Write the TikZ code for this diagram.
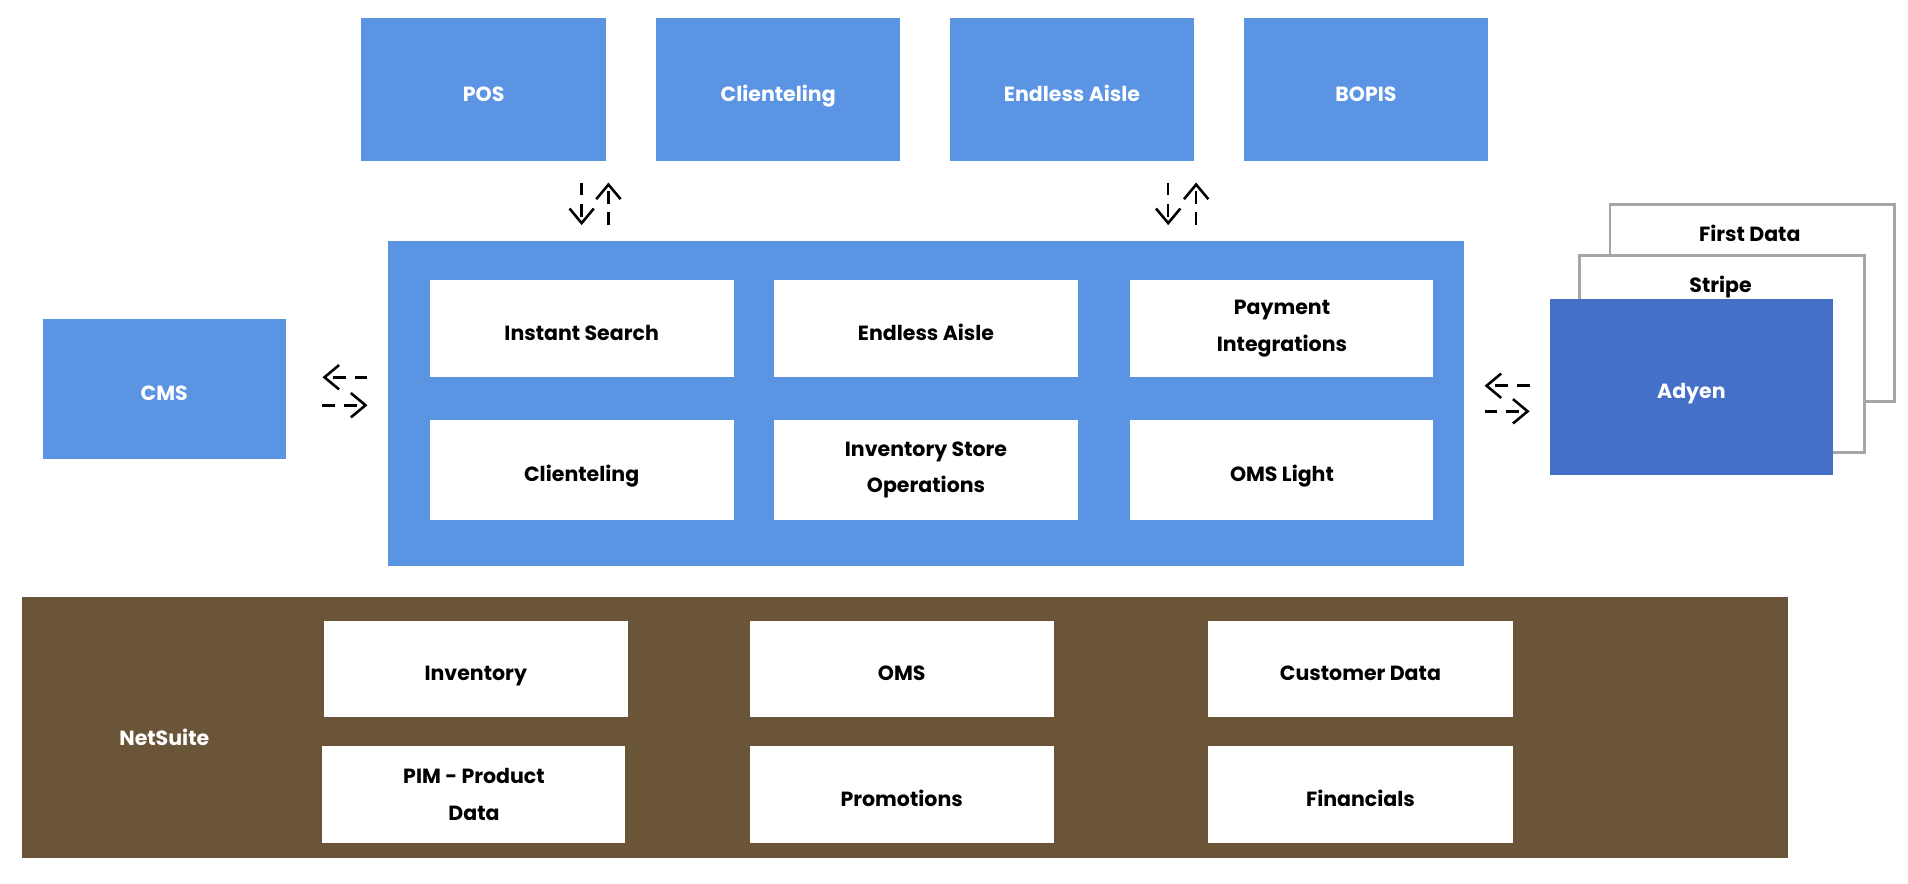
\documentclass[tikz,border=0pt]{standalone}
\usepackage{fontspec}
\setmainfont{Poppins}
\usetikzlibrary{arrows.meta}
\definecolor{appblue}{HTML}{5B94E3}
\definecolor{payblue}{HTML}{4470C8}
\definecolor{erpbrown}{HTML}{6B5539}
\tikzset{
  lbl/.style={font=\fontsize{4.8}{8.5}\selectfont\bfseries, align=center, text height=1.3ex, text depth=.3ex},
  twoline/.style={text height=, text depth=},
  topbox/.style={fill=appblue, text=white, lbl},
  whitebox/.style={fill=white, text=black, lbl},
  card/.style={draw=gray!70, line width=0.6pt, fill=white, lbl},
  flow/.style={densely dashed, line width=0.6pt, -{Straight Barb[length=1.2mm,width=2mm]}}
}
\newcommand{\bx}[6]{% name, style, x1, y1, x2, y2 (pixels, y down)
  \path[#2] (#3/100,7.26-#4/100) rectangle (#5/100,7.26-#6/100);
  \coordinate (#1) at ({(#3+#5)/200},{7.26-(#4+#6)/200});
}
\begin{document}
\begin{tikzpicture}
  \useasboundingbox (0,0) rectangle (15.68,7.26);

  % apps on top
  \bx{pos}{fill=appblue}{297}{15}{498}{132}
  \bx{cli}{fill=appblue}{539}{15}{740}{132}
  \bx{ea}{fill=appblue}{781}{15}{981}{132}
  \bx{bop}{fill=appblue}{1022}{15}{1223}{132}
  \node[topbox] (posL) at (pos) {POS};
  \node[topbox] (cliL) at (cli) {Clienteling};
  \node[topbox] (eaL) at (ea) {Endless Aisle};
  \node[topbox] (bopL) at (bop) {BOPIS};

  % store platform
  \bx{plat}{fill=appblue}{319}{198}{1203}{465}
  \bx{is}{fill=white}{353}{230}{603}{310}
  \bx{ea2}{fill=white}{636}{230}{886}{310}
  \bx{pi}{fill=white}{929}{230}{1178}{310}
  \bx{cl2}{fill=white}{353}{345}{603}{427}
  \bx{iso}{fill=white}{636}{345}{886}{427}
  \bx{oms}{fill=white}{929}{345}{1178}{427}
  \node[whitebox] (isL) at (is) {Instant Search};
  \node[whitebox] (ea2L) at (ea2) {Endless Aisle};
  \node[whitebox, twoline] (piL) at (pi) {Payment\\Integrations};
  \node[whitebox] (cl2L) at (cl2) {Clienteling};
  \node[whitebox, twoline] (isoL) at (iso) {Inventory Store\\Operations};
  \node[whitebox] (omsL) at (oms) {OMS Light};

  % CMS
  \bx{cms}{fill=appblue}{35}{262}{235}{377}
  \node[topbox] (cmsL) at (cms) {CMS};

  % payment providers
  \bx{fd}{card}{1323}{168}{1557}{330}
  \bx{st}{card}{1298}{210}{1532}{372}
  \bx{ady}{fill=payblue}{1274}{246}{1506}{390}
  \node[lbl] (fdL) at (14.38,7.26-1.89) {First Data};
  \node[lbl] (stL) at (14.14,7.26-2.31) {Stripe};
  \node[topbox, fill=none] (adyL) at (ady) {Adyen};

  % NetSuite
  \bx{ns}{fill=erpbrown}{18}{491}{1469}{705}
  \bx{inv}{fill=white}{266}{510}{516}{589}
  \bx{nso}{fill=white}{616}{510}{866}{589}
  \bx{cd}{fill=white}{993}{510}{1243}{589}
  \bx{pim}{fill=white}{265}{613}{514}{693}
  \bx{pro}{fill=white}{616}{613}{866}{693}
  \bx{fin}{fill=white}{993}{613}{1243}{693}
  \node[topbox, fill=none] (nsL) at (1.35,7.26-6.03) {NetSuite};
  \node[whitebox] (invL) at (inv) {Inventory};
  \node[whitebox] (nsoL) at (nso) {OMS};
  \node[whitebox] (cdL) at (cd) {Customer Data};
  \node[whitebox, twoline] (pimL) at (pim) {PIM - Product\\Data};
  \node[whitebox] (proL) at (pro) {Promotions};
  \node[whitebox] (finL) at (fin) {Financials};

  % connectors
  \coordinate (a1) at (4.78,7.26-1.50); \coordinate (a2) at (4.78,7.26-1.85);
  \coordinate (b1) at (5.00,7.26-1.85); \coordinate (b2) at (5.00,7.26-1.50);
  \coordinate (c1) at (9.60,7.26-1.50); \coordinate (c2) at (9.60,7.26-1.85);
  \coordinate (d1) at (9.83,7.26-1.85); \coordinate (d2) at (9.83,7.26-1.50);
  \coordinate (e1) at (3.02,7.26-3.10); \coordinate (e2) at (2.65,7.26-3.10);
  \coordinate (f1) at (2.65,7.26-3.33); \coordinate (f2) at (3.02,7.26-3.33);
  \coordinate (g1) at (12.57,7.26-3.17); \coordinate (g2) at (12.20,7.26-3.17);
  \coordinate (h1) at (12.20,7.26-3.38); \coordinate (h2) at (12.57,7.26-3.38);
  \draw[flow] (a1) -- (a2);
  \draw[flow] (b1) -- (b2);
  \draw[flow] (c1) -- (c2);
  \draw[flow] (d1) -- (d2);
  \draw[flow] (e1) -- (e2);
  \draw[flow] (f1) -- (f2);
  \draw[flow] (g1) -- (g2);
  \draw[flow] (h1) -- (h2);
\end{tikzpicture}
\end{document}
